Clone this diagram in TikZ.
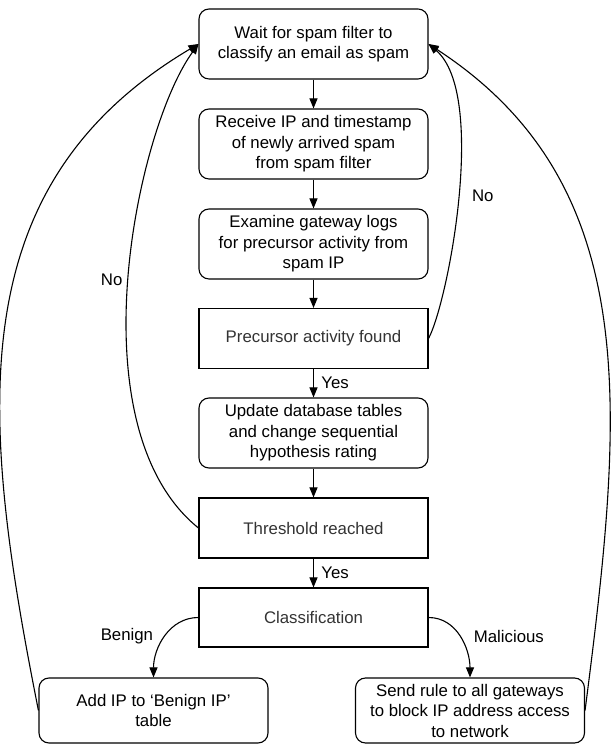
\documentclass[tikz,border=0pt]{standalone}
\usepackage{fontspec}
\setmainfont{Liberation Sans}
\usetikzlibrary{arrows.meta}

\begin{document}
\begin{tikzpicture}[x=1pt, y=1pt, line width=1.1pt, >={Triangle[length=10pt,width=8pt]},
  font=\fontsize{16.8}{20.5}\selectfont,
  rbox/.style={draw, rounded corners=10pt, align=center, minimum width=229pt, minimum height=70pt, inner sep=2pt},
  sbox/.style={draw, align=center, minimum width=229pt, minimum height=60pt, text=black!80}]
\useasboundingbox (0,0) rectangle (611,746);
% main column
\node[rbox] (wait) at (313.5,702) {Wait for spam filter to\\classify an email as spam};
\node[rbox] (receive) at (313.5,602) {Receive IP and timestamp\\of newly arrived spam\\from spam filter};
\node[rbox] (examine) at (313.5,502) {Examine gateway logs\\for precursor activity from\\spam IP};
\node[sbox] (found) at (313.5,407.5) {Precursor activity found};
\node[rbox] (update) at (313.5,313) {Update database tables\\and change sequential\\hypothesis rating};
\node[sbox] (thresh) at (313.5,218) {Threshold reached};
\node[sbox, minimum height=59pt] (class) at (313.5,128.5) {Classification};
% outcomes
\node[rbox, minimum height=65pt] (benign) at (153.5,35.5) {Add IP to ‘Benign IP’\\table};
\node[rbox, minimum height=65pt] (block) at (470,35.5) {Send rule to all gateways\\to block IP address access\\to network};

\draw[->] (wait) -- (receive);
\draw[->] (receive) -- (examine);
\draw[->] (examine) -- (found);
\draw[->] (found) -- node[right=4pt] {Yes} (update);
\draw[->] (update) -- (thresh);
\draw[->] (thresh) -- node[right=4pt] {Yes} (class);
\draw[->] (class.west) to[out=180, in=90] node[pos=0.5, left=8pt] {Benign} (benign.north);
\draw[->] (class.east) to[out=0, in=90] node[pos=0.5, right=10pt] {Malicious} (block.north);

% loops back to the top
\draw[->] (found.east) .. controls +(20,38) and +(59,-50) .. node[pos=0.5, right=10pt] {No} (wait.east);
\draw[->] (thresh.west) .. controls +(-125,101) and +(-62,-85) .. node[pos=0.5, left=2pt] {No} (wait.west);
\draw[->] (benign.west) .. controls +(-59,296) and +(-239,-142) .. (wait.west);
\draw[->] (block.east) .. controls +(38,296) and +(218,-142) .. (wait.east);
\end{tikzpicture}
\end{document}
